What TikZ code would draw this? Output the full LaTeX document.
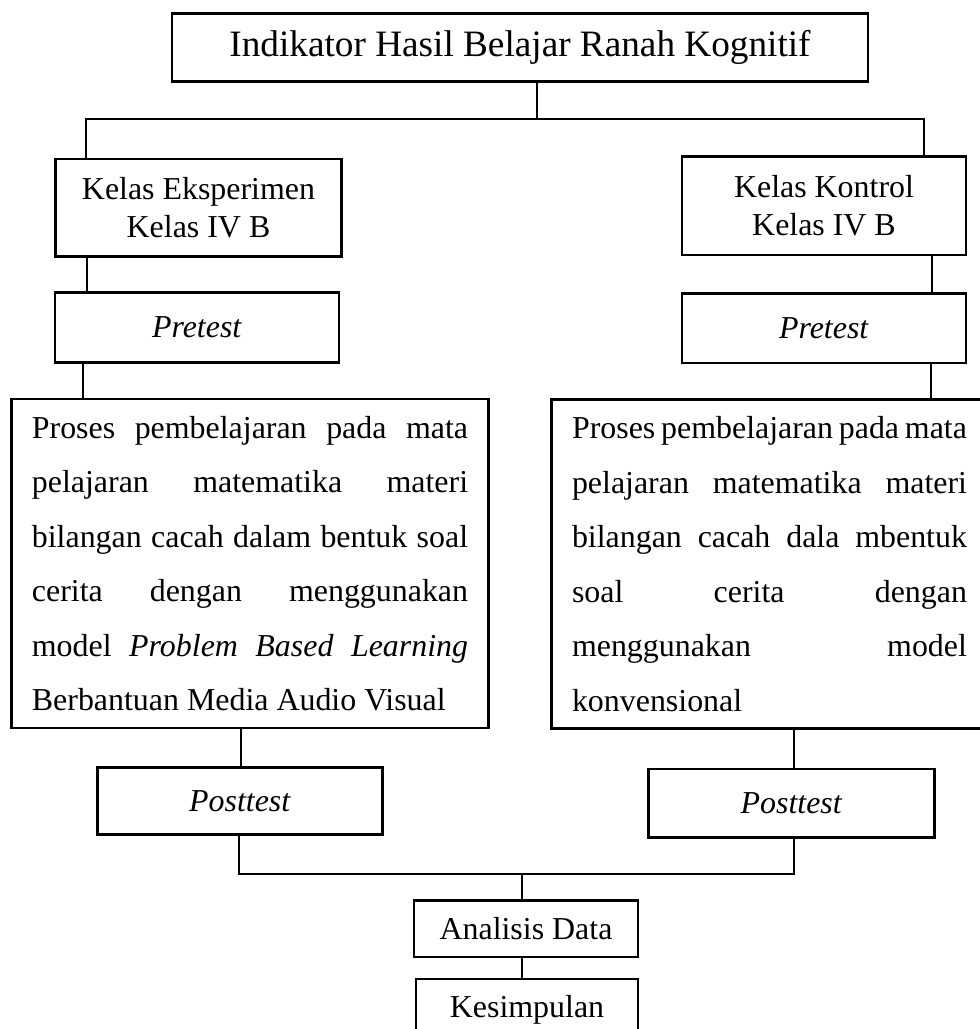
\documentclass[tikz,border=0pt]{standalone}
\usepackage{fontspec}
\setmainfont{Liberation Serif}
\tolerance=10000
\hyphenpenalty=10000
\newcommand{\bodyfont}{\fontsize{12}{20.5}\selectfont\spaceskip=0.1em plus 4em\relax}

\begin{document}
\begin{tikzpicture}[x=0.376pt,y=-0.376pt,font=\fontsize{12}{14.3}\selectfont,
 box/.style={draw,line width=1.1pt,inner sep=0pt},
 body/.style={box,align=justify,inner xsep=7.8pt,font=\bodyfont},
 link/.style={line width=0.6pt}]
 \useasboundingbox (0,0) rectangle (980,1029);
 \node[box,minimum width=261.7pt,minimum height=25.9pt,font=\fontsize{14}{16}\selectfont] (title) at (520,47.5)
 {Indikator Hasil Belajar Ranah Kognitif};
 \node[box,align=center,minimum width=107.2pt,minimum height=36.5pt] (eks) at (198.5,207.5)
 {Kelas Eksperimen\\Kelas IV B};
 \node[box,align=center,minimum width=106.8pt,minimum height=37.2pt] (kon) at (824,205.5)
 {Kelas Kontrol\\Kelas IV B};
 \node[box,minimum width=106.8pt,minimum height=26pt] (preE) at (197,327.5) {\textit{Pretest}};
 \node[box,minimum width=106.8pt,minimum height=26.3pt] (preK) at (824,328) {\textit{Pretest}};
 \node[body,text width=164pt,minimum height=123.7pt] (prosE) at (250,563.5) {%
 Proses pembelajaran pada mata\linebreak
 pelajaran matematika materi\linebreak
 bilangan cacah dalam bentuk soal\linebreak
 cerita dengan menggunakan\linebreak
 model \textit{Problem Based Learning}\linebreak
 {\spaceskip=0pt\relax Berbantuan Media Audio Visual}};
 \node[body,text width=148.5pt,minimum height=124pt] (prosK) at (769.5,564) {%
 Proses pembelajaran pada mata\linebreak
 pelajaran matematika materi\linebreak
 bilangan cacah dala mbentuk\linebreak
 soal cerita dengan\linebreak
 menggunakan model\linebreak
 konvensional};
 \node[box,minimum width=107.2pt,minimum height=25pt] (postE) at (240,801) {\textit{Posttest}};
 \node[box,minimum width=107.2pt,minimum height=25.6pt] (postK) at (791.5,803) {\textit{Posttest}};
 \node[box,minimum width=84.2pt,minimum height=21.4pt] (ana) at (526,928.5) {Analisis Data};
 \node[box,minimum width=83.5pt,minimum height=23.3pt] (kes) at (527,1010) {Kesimpulan};
 % branching
 \coordinate (fork) at (537,119);
 \coordinate (join) at (522,874);
 \draw[link] (title.south -| fork) -- (fork);
 \draw[link] (eks.north -| 86,0) |- (fork) -| (kon.north -| 924,0);
 \draw[link] (eks.south -| 87,0) -- (preE.north -| 87,0);
 \draw[link] (kon.south -| 932,0) -- (preK.north -| 932,0);
 \draw[link] (preE.south -| 83,0) -- (prosE.north -| 83,0);
 \draw[link] (preK.south -| 931,0) -- (prosK.north -| 931,0);
 \draw[link] (prosE.south -| 241,0) -- (postE.north -| 241,0);
 \draw[link] (prosK.south -| 794,0) -- (postK.north -| 794,0);
 \draw[link] (postE.south -| 239,0) |- (join) -| (postK.south -| 794,0);
 \draw[link] (join) -- (ana.north -| join);
 \draw[link] (ana.south -| join) -- (kes.north -| join);
\end{tikzpicture}
\end{document}
